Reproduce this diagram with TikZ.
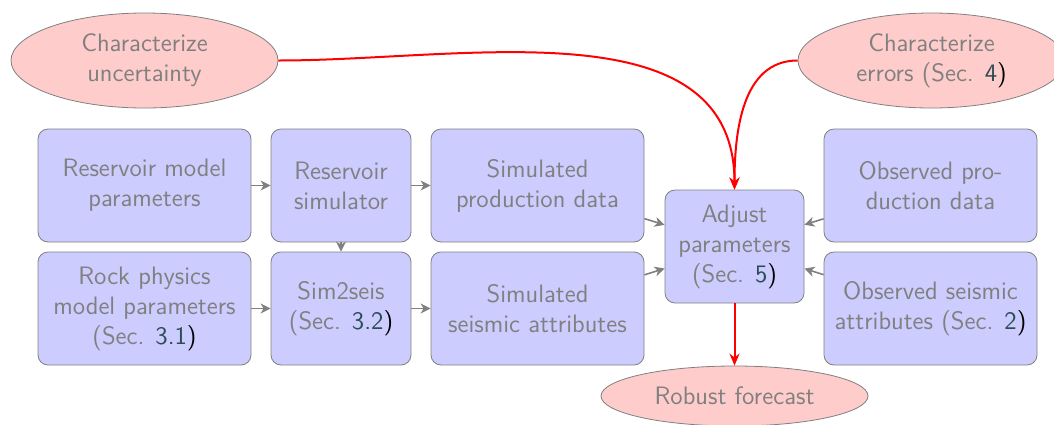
\documentclass[tikz,border=0pt]{standalone}
\usetikzlibrary{shapes.geometric,arrows.meta}
\definecolor{numcol}{rgb}{0.17,0.30,0.32}
\newcommand{\secref}[1]{\textcolor{numcol}{#1}\textcolor{black}{)}}
\begin{document}
\begin{tikzpicture}[x=0.5pt,y=-0.5pt,
  every node/.style={font=\sffamily\fontsize{12.6}{15}\selectfont, text=gray, align=center},
  box/.style={draw=gray, fill=blue!20, rounded corners=5pt, minimum height=56.5pt, inner sep=2pt},
  oval/.style={ellipse, draw=gray, fill=red!20, inner sep=0pt},
  garrow/.style={draw=gray, line width=0.8pt, -{Stealth[length=5pt,width=5pt,inset=1.5pt]}},
  rarrow/.style={draw=red, line width=1pt, -{Stealth[length=6pt,width=5pt]}}]
\useasboundingbox (0,0) rectangle (1054,424);
% top ellipses
\node[oval, minimum width=133.5pt, minimum height=47.5pt] (cu) at (144.5,60.5) {Characterize\\uncertainty};
\node[oval, minimum width=133.5pt, minimum height=47.5pt] (ce) at (931.5,60.5) {Characterize\\errors (Sec. \secref{4}};
% boxes
\node[box, minimum width=106.5pt] (rmp) at (144.5,185.5) {Reservoir model\\parameters};
\node[box, minimum width=70pt] (rs) at (341,185.5) {Reservoir\\simulator};
\node[box, minimum width=106.5pt] (spd) at (537.5,185.5) {Simulated\\production data};
\node[box, minimum width=106.5pt] (rpm) at (144.5,308.5) {Rock physics\\model parameters\\(Sec. \secref{3.1}};
\node[box, minimum width=70pt] (s2s) at (341,308.5) {Sim2seis\\(Sec. \secref{3.2}};
\node[box, minimum width=106.5pt] (ssa) at (537.5,308.5) {Simulated\\seismic attributes};
\node[box, minimum width=69.5pt] (adj) at (734.5,246.5) {Adjust\\parameters\\(Sec. \secref{5}};
\node[box, minimum width=106.5pt] (opd) at (930.5,185.5) {Observed pro-\\duction data};
\node[box, minimum width=106.5pt] (osa) at (930.5,308.5) {Observed seismic\\attributes (Sec. \secref{2}};
% bottom ellipse
\node[oval, minimum width=133.5pt, minimum height=30pt] (rf) at (734.5,396) {Robust forecast};
% gray arrows
\draw[garrow] (rmp) -- (rs);
\draw[garrow] (rs) -- (spd);
\draw[garrow] (rpm) -- (s2s);
\draw[garrow] (s2s) -- (ssa);
\draw[garrow] (rs) -- (s2s);
\draw[garrow] (spd) -- (adj);
\draw[garrow] (ssa) -- (adj);
\draw[garrow] (opd) -- (adj);
\draw[garrow] (osa) -- (adj);
% red arrows
\draw[rarrow] (cu.east) to[out=0,in=90] (adj.north);
\draw[rarrow] (ce.west) to[out=180,in=90] (adj.north);
\draw[rarrow] (adj) -- (rf);
\end{tikzpicture}
\end{document}
